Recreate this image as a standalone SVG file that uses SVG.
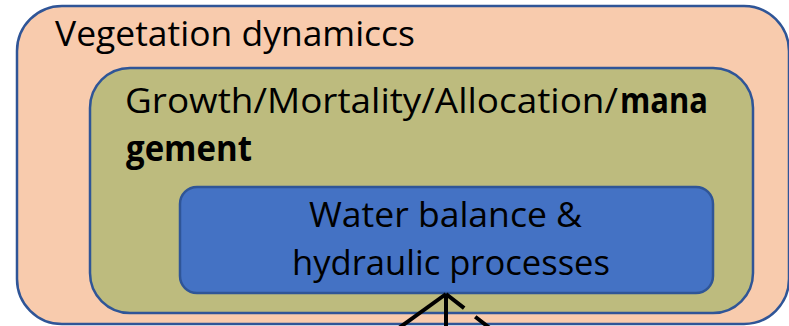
<svg xmlns="http://www.w3.org/2000/svg" width="789" height="326" viewBox="0 0 789 326">
<style>
.box{stroke:#2F5597;stroke-width:2.5}
.t{font-family:"Open Sans","Noto Sans","Liberation Sans",sans-serif;font-size:35px;fill:#000}
.b{font-weight:bold}
.c{stroke:#000;stroke-width:4;fill:none}
</style>
<rect width="789" height="326" fill="#fff"/>
<g id="vegetation">
<rect class="box" x="17" y="6" width="772" height="318" rx="45" fill="#F8CBAD"/>
<text class="t" x="55" y="46" textLength="360" lengthAdjust="spacingAndGlyphs">Vegetation dynamiccs</text>
</g>
<g id="growth">
<rect class="box" x="90" y="68" width="663" height="245" rx="40" fill="#BDBB7E"/>
<text class="t" x="125" y="113" textLength="493" lengthAdjust="spacingAndGlyphs">Growth/Mortality/Allocation/</text>
<text class="t b" x="620" y="113" textLength="88" lengthAdjust="spacingAndGlyphs">mana</text>
<text class="t b" x="126" y="161" textLength="126" lengthAdjust="spacingAndGlyphs">gement</text>
</g>
<g id="water">
<rect class="box" x="180" y="187" width="533" height="106" rx="17" fill="#4472C4"/>
<text class="t" x="309" y="227" textLength="273" lengthAdjust="spacingAndGlyphs">Water balance &amp;</text>
<text class="t" x="292" y="275" textLength="318" lengthAdjust="spacingAndGlyphs">hydraulic processes</text>
</g>
<g id="connectors">
<line class="c" x1="446" y1="294" x2="392" y2="333"/>
<line class="c" x1="446" y1="294" x2="446" y2="330"/>
<line class="c" x1="446" y1="294" x2="500" y2="336" stroke-dasharray="23 14"/>
</g>
</svg>
